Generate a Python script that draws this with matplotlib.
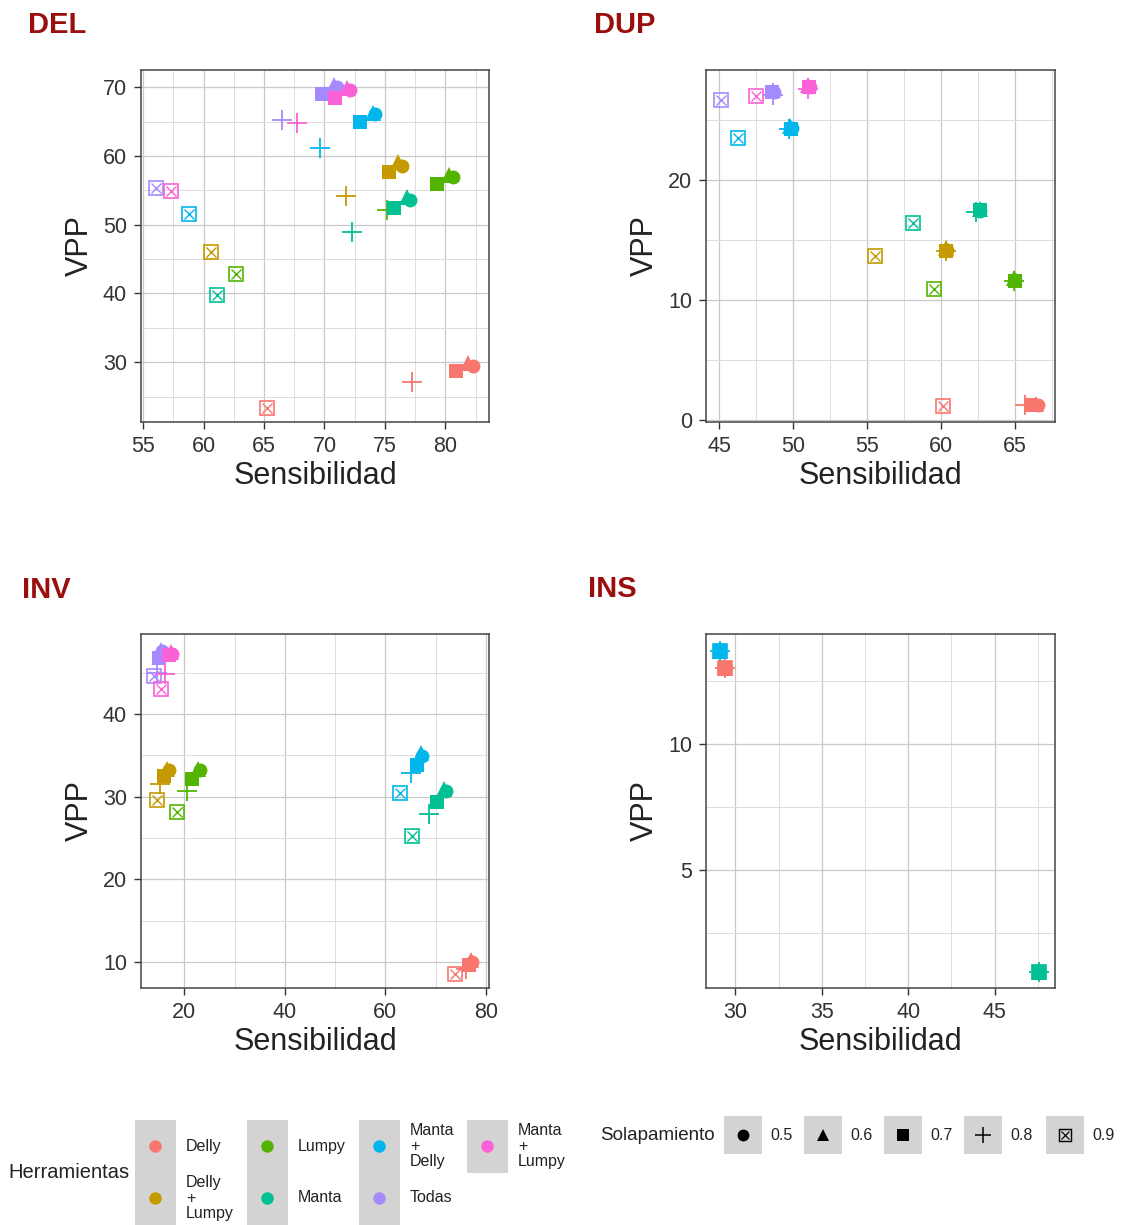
import matplotlib.pyplot as plt
from matplotlib.patches import Rectangle
from matplotlib.ticker import MultipleLocator

plt.rcParams['font.family'] = ['Liberation Sans', 'DejaVu Sans']

W, H = 1122, 1225

TOOLS = ['Delly', 'Delly\n+\nLumpy', 'Lumpy', 'Manta', 'Manta\n+\nDelly', 'Todas', 'Manta\n+\nLumpy']
TOOL_COLORS = ['#F8766D', '#C49A00', '#53B400', '#00C094', '#00B6EB', '#A58AFF', '#FB61D7']
OVERLAPS = ['0.5', '0.6', '0.7', '0.8', '0.9']

# rows follow TOOLS, columns follow OVERLAPS
DEL_SENS = [
    [82.3, 81.9, 80.85, 77.2, 65.25],
    [76.4, 76.1, 75.35, 71.8, 60.6],
    [80.6, 80.3, 79.3, 75.2, 62.65],
    [77.1, 76.8, 75.75, 72.3, 61.1],
    [74.2, 74.0, 72.9, 69.6, 58.8],
    [71.0, 70.8, 69.8, 66.5, 56.1],
    [72.1, 71.9, 70.9, 67.7, 57.3],
]
DEL_VPP = [
    [29.4, 29.9, 28.7, 27.1, 23.35],
    [58.6, 59.1, 57.7, 54.2, 46.1],
    [57.0, 57.3, 55.9, 52.2, 42.8],
    [53.6, 54.0, 52.5, 49.0, 39.8],
    [66.1, 66.3, 64.9, 61.1, 51.6],
    [70.0, 70.3, 69.0, 65.2, 55.4],
    [69.6, 69.9, 68.5, 64.8, 54.9],
]

DUP_SENS = [
    [66.55, 66.4, 66.1, 65.7, 60.15],
    [60.4, 60.3, 60.35, 60.3, 55.5],
    [65.0, 64.95, 65.0, 64.9, 59.5],
    [62.65, 62.6, 62.6, 62.35, 58.1],
    [49.9, 49.8, 49.85, 49.7, 46.25],
    [48.7, 48.6, 48.55, 48.6, 45.1],
    [51.1, 51.0, 51.05, 51.0, 47.5],
]
DUP_VPP = [
    [1.3, 1.35, 1.25, 1.25, 1.15],
    [14.2, 14.35, 14.1, 14.05, 13.65],
    [11.65, 11.8, 11.6, 11.55, 10.9],
    [17.45, 17.6, 17.5, 17.3, 16.4],
    [24.3, 24.5, 24.2, 24.2, 23.5],
    [27.3, 27.5, 27.3, 27.1, 26.65],
    [27.7, 27.9, 27.7, 27.6, 26.95],
]

INV_SENS = [
    [77.3, 77.0, 76.6, 76.0, 73.9],
    [16.9, 16.6, 15.9, 15.2, 14.5],
    [23.2, 22.8, 21.6, 20.5, 18.5],
    [72.0, 71.7, 70.3, 68.6, 65.3],
    [67.3, 67.1, 66.3, 65.1, 62.9],
    [15.5, 15.3, 15.0, 14.6, 14.0],
    [17.6, 17.3, 17.0, 16.2, 15.3],
]
INV_VPP = [
    [10.0, 10.2, 9.6, 9.2, 8.5],
    [33.2, 33.4, 32.5, 31.6, 29.6],
    [33.2, 33.4, 32.1, 30.7, 28.2],
    [30.7, 30.9, 29.4, 27.9, 25.3],
    [34.9, 35.3, 33.8, 32.9, 30.4],
    [47.6, 47.8, 46.8, 45.0, 44.6],
    [47.3, 47.5, 47.1, 44.9, 43.0],
]

# only Delly, Manta and Manta + Delly report insertions
INS_TOOL_IDX = [0, 3, 4]
INS_SENS = [
    [29.42, 29.42, 29.42, 29.42, 29.42],
    [47.6, 47.6, 47.6, 47.6, 47.6],
    [29.09, 29.09, 29.09, 29.09, 29.09],
]
INS_VPP = [
    [13.03, 13.03, 13.03, 13.03, 13.03],
    [0.97, 0.97, 0.97, 0.97, 0.97],
    [13.7, 13.7, 13.7, 13.7, 13.7],
]

TEXT = '#333333'


def px_axes(fig, left, top, right, bottom):
    return fig.add_axes([left / W, 1 - bottom / H, (right - left) / W, (bottom - top) / H])


def draw_point(ax, x, y, k, color, scale=1.0):
    if k == 0:
        ax.plot(x, y, 'o', ms=10 * scale, color=color, mew=0)
    elif k == 1:
        ax.plot(x, y, '^', ms=11 * scale, color=color, mew=0)
    elif k == 2:
        ax.plot(x, y, 's', ms=10 * scale, color=color, mew=0)
    elif k == 3:
        ax.plot(x, y, '+', ms=14 * scale, color=color, mew=1.3 * scale)
    else:
        ax.plot(x, y, 's', ms=10 * scale, mfc='none', mec=color, mew=1.2 * scale)
        ax.plot(x, y, 'x', ms=6.5 * scale, color=color, mew=1.0 * scale)


def panel(ax, sens, vpp, tool_idx, xlim, ylim, xstep, ystep):
    ax.set_xlim(*xlim)
    ax.set_ylim(*ylim)
    ax.xaxis.set_major_locator(MultipleLocator(xstep))
    ax.yaxis.set_major_locator(MultipleLocator(ystep))
    ax.xaxis.set_minor_locator(MultipleLocator(xstep / 2))
    ax.yaxis.set_minor_locator(MultipleLocator(ystep / 2))
    ax.grid(which='major', color='#c9c9c9', lw=0.9)
    ax.grid(which='minor', color='#dddddd', lw=0.7)
    ax.set_axisbelow(True)
    ax.tick_params(which='major', direction='out', length=5, width=1, color=TEXT,
                   labelsize=15.5, labelcolor=TEXT, pad=5)
    ax.tick_params(which='minor', length=0)
    for sp in ax.spines.values():
        sp.set_color('#444444')
        sp.set_linewidth(1.1)
    ax.set_xlabel('Sensibilidad', fontsize=22, color='#222222', labelpad=3)
    ax.set_ylabel('VPP', fontsize=22, color='#222222', labelpad=6)
    for row, t in enumerate(tool_idx):
        for k in range(len(OVERLAPS)):
            draw_point(ax, sens[row][k], vpp[row][k], k, TOOL_COLORS[t])


fig = plt.figure(figsize=(W / 100, H / 100), dpi=100)

ax_del = px_axes(fig, 141, 70, 489, 422)
ax_dup = px_axes(fig, 706, 70, 1055, 422)
ax_inv = px_axes(fig, 141, 634, 489, 988)
ax_ins = px_axes(fig, 706, 634, 1055, 988)

all_tools = list(range(len(TOOLS)))
panel(ax_del, DEL_SENS, DEL_VPP, all_tools, (54.83, 83.6), (21.3, 72.5), 5, 10)
panel(ax_dup, DUP_SENS, DUP_VPP, all_tools, (44.1, 67.7), (-0.15, 29.15), 5, 10)
panel(ax_inv, INV_SENS, INV_VPP, all_tools, (11.4, 80.6), (6.85, 49.7), 20, 10)
panel(ax_ins, INS_SENS, INS_VPP, INS_TOOL_IDX, (28.3, 48.5), (0.32, 14.37), 5, 5)

for name, x, base in [('DEL', 28, 33), ('DUP', 594, 33), ('INV', 22, 598), ('INS', 588, 597)]:
    fig.text(x / W, 1 - base / H, name, fontsize=21, fontweight='bold',
             color='#9B0E0E', ha='left', va='baseline')

# legends, laid out in pixel coordinates
leg = fig.add_axes([0, 0, 1, 1], zorder=-1)
leg.set_xlim(0, W)
leg.set_ylim(H, 0)
leg.axis('off')

KEY_GREY = '#d3d3d3'
leg.text(8, 1172, 'Herramientas', fontsize=14.5, color='#222222', ha='left', va='center')
col_x = [135, 247, 359, 467]
row_y = [1120, 1172]
for i, label in enumerate(TOOLS):
    c, r = divmod(i, 2)
    x0, y0 = col_x[c], row_y[r]
    leg.add_patch(Rectangle((x0, y0), 41, 53, color=KEY_GREY, lw=0))
    cy = y0 + 26
    leg.plot(x0 + 20.5, cy, 'o', ms=9, color=TOOL_COLORS[i], mew=0)
    leg.text(x0 + 51, cy, label, fontsize=11.5, color='#222222', ha='left', va='center',
             linespacing=1.05)

leg.text(600, 1136, 'Solapamiento', fontsize=13.5, color='#222222', ha='left', va='center')
key_x = [724, 804, 884, 964, 1046]
for k, label in enumerate(OVERLAPS):
    x0 = key_x[k]
    leg.add_patch(Rectangle((x0, 1116), 38, 38, color=KEY_GREY, lw=0))
    draw_point(leg, x0 + 19, 1135, k, 'black', scale=0.85)
    leg.text(x0 + 46, 1135, label, fontsize=11.5, color='#222222', ha='left', va='center')

fig.savefig('out.png', dpi=100)
